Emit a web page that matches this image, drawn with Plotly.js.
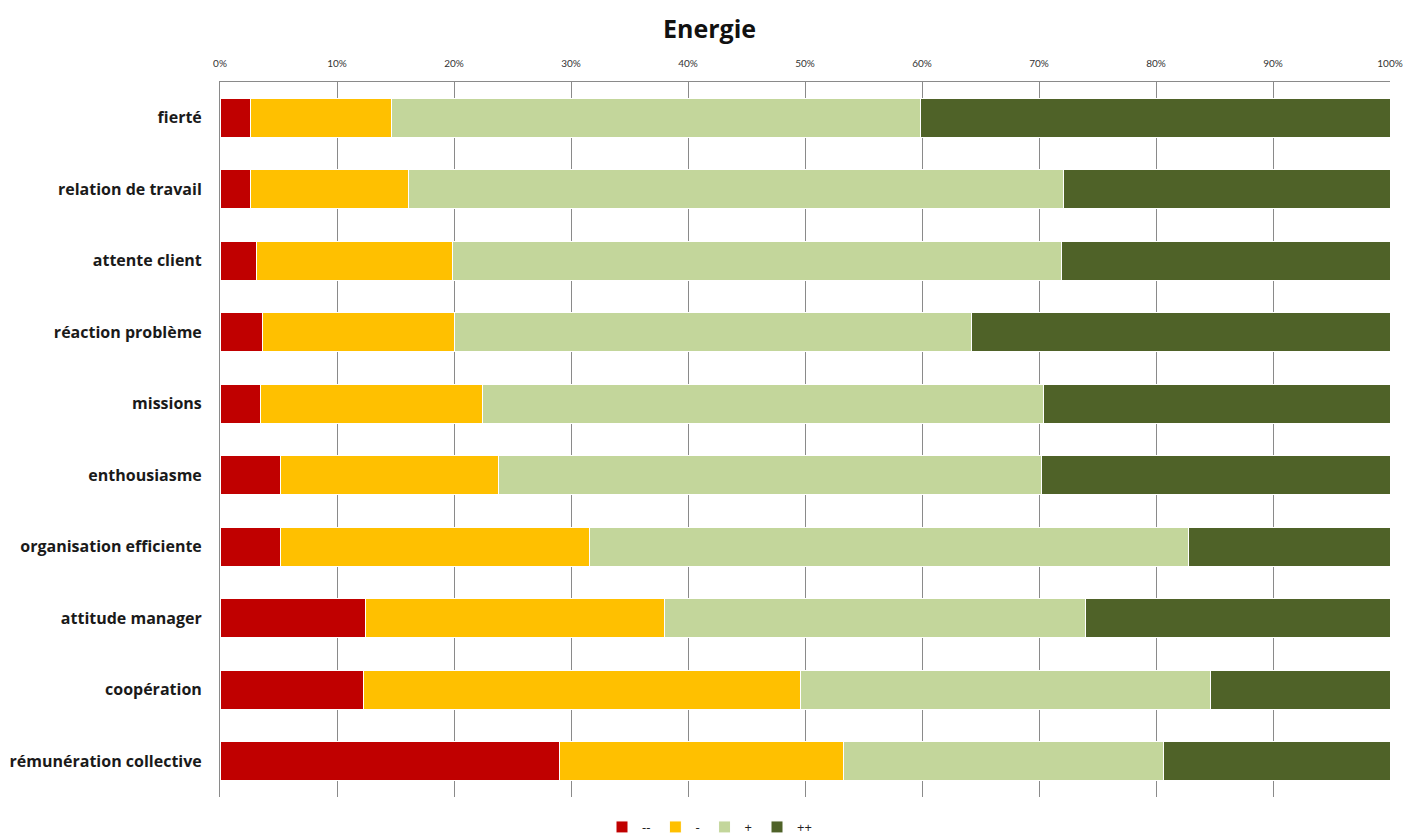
<!DOCTYPE html>
<html>
<head>
<meta charset="utf-8">
<script src="https://cdn.plot.ly/plotly-3.0.1.min.js"></script>
<style>
  html, body { margin: 0; padding: 0; background: #ffffff; }
  #chart { width: 1419px; height: 836px; }
</style>
</head>
<body>
<div id="chart"></div>
<script>
// Survey items, listed top to bottom
const categories = [
  "fierté",
  "relation de travail",
  "attente client",
  "réaction problème",
  "missions",
  "enthousiasme",
  "organisation efficiente",
  "attitude manager",
  "coopération",
  "rémunération collective"
];

// Share of answers (%) per level
const veryNegative = [2.6, 2.6, 3.1, 3.6, 3.5, 5.2, 5.2, 12.4, 12.3, 29.0];
const negative     = [12.1, 13.5, 16.8, 16.4, 18.9, 18.6, 26.4, 25.6, 37.3, 24.3];
const positive     = [45.2, 56.0, 52.0, 44.2, 48.0, 46.4, 51.2, 36.0, 35.1, 27.3];
const veryPositive = [40.1, 27.9, 28.1, 35.8, 29.6, 29.8, 17.2, 26.0, 15.3, 19.4];

const levelNames  = ["--", "-", "+", "++"];
const levelColors = ["#C00000", "#FFC000", "#C3D69B", "#4F6228"];
const levelValues = [veryNegative, negative, positive, veryPositive];

const traces = levelValues.map((vals, i) => ({
  type: "bar",
  orientation: "h",
  name: levelNames[i],
  x: vals,
  y: categories,
  marker: { color: levelColors[i], line: { color: "#ffffff", width: 1 } },
  hovertemplate: "%{y}: %{x:.1f}%<extra>" + levelNames[i] + "</extra>"
}));

const layout = {
  width: 1419,
  height: 836,
  paper_bgcolor: "#ffffff",
  plot_bgcolor: "#ffffff",
  margin: { l: 220, r: 29, t: 82, b: 39 },
  barmode: "stack",
  bargap: 0.455,
  font: { family: "'Open Sans', Lato, sans-serif", color: "#222222" },
  title: {
    text: "<b>Energie</b>",
    font: { size: 25, color: "#111111", family: "'Open Sans', Lato, sans-serif" },
    x: 0.5, xref: "container", xanchor: "center",
    y: 1 - 29 / 836, yref: "container", yanchor: "middle"
  },
  xaxis: {
    side: "top",
    range: [0, 100],
    dtick: 10,
    tick0: 0,
    ticksuffix: "%",
    showgrid: true,
    gridcolor: "#8a8a8a",
    gridwidth: 1,
    zeroline: false,
    showline: true,
    linecolor: "#8a8a8a",
    linewidth: 1,
    ticks: "",
    ticklabelstandoff: 10,
    tickfont: { size: 10, color: "#333333", family: "Lato, 'Open Sans', sans-serif" },
    fixedrange: true
  },
  yaxis: {
    autorange: "reversed",
    showline: true,
    linecolor: "#8a8a8a",
    linewidth: 1,
    showgrid: false,
    ticks: "",
    ticklabelstandoff: 14,
    tickfont: { size: 16, color: "#1a1a1a", family: "'Open Sans', Lato, sans-serif", weight: "bold" },
    fixedrange: true
  },
  showlegend: true,
  legend: {
    orientation: "h",
    xref: "container", x: 0.5, xanchor: "center",
    yref: "container", y: 1 - 827 / 836, yanchor: "middle",
    font: { size: 13, color: "#222222" },
    itemwidth: 30,
    tracegroupgap: 0,
    traceorder: "normal"
  }
};

Plotly.newPlot("chart", traces, layout, { displayModeBar: false });
</script>
</body>
</html>
